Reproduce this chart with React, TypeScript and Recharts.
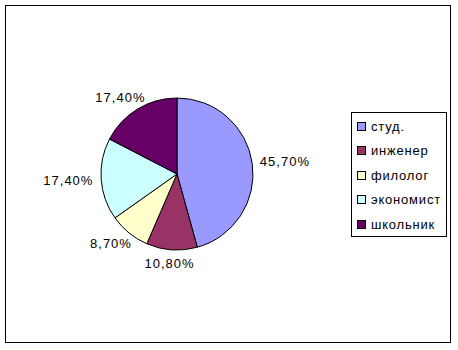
import React from "react";
import { PieChart, Pie, Cell, Legend } from "recharts";

const categories = ["студ.", "инженер", "филолог", "экономист", "школьник"];
const shares = [45.7, 10.8, 8.7, 17.4, 17.4];
const colors = ["#9999FF", "#993366", "#FFFFCC", "#CCFFFF", "#660066"];

const data = categories.map((name, i) => ({ name, value: shares[i] }));

const RAD = Math.PI / 180;
const FONT = "'Liberation Sans', Arial, sans-serif";

const fmt = (v: number) => v.toFixed(2).replace(".", ",") + "%";

const renderLabel = (props: any) => {
  const { cx, cy, midAngle, outerRadius, value } = props;
  const text = fmt(value);
  const w = text.length * 8.3;
  const h = 12;
  const cos = Math.cos(-midAngle * RAD);
  const sin = Math.sin(-midAngle * RAD);
  const ax = cx + (outerRadius + 8) * cos;
  const ay = cy + (outerRadius + 8) * sin;
  const x = ax + (cos * w) / 2;
  const y = ay + (sin * h) / 2;
  return (
    <text
      x={x}
      y={y}
      textAnchor="middle"
      dominantBaseline="central"
      fill="#000"
      fontSize={13}
      letterSpacing={1}
      fontFamily={FONT}
    >
      {text}
    </text>
  );
};

const LegendBox = () => (
  <div
    style={{
      border: "1px solid #000",
      background: "#fff",
      width: 96,
      height: 125,
      boxSizing: "border-box",
      paddingTop: 1,
      fontFamily: FONT,
      fontSize: 13,
      letterSpacing: 0.8,
      color: "#000",
    }}
  >
    {categories.map((c, i) => (
      <div
        key={c}
        style={{ display: "flex", alignItems: "center", height: 24.5, paddingLeft: 5 }}
      >
        <span
          style={{
            display: "inline-block",
            width: 7,
            height: 7,
            border: "1px solid #000",
            background: colors[i],
            marginRight: 5,
          }}
        />
        <span>{c}</span>
      </div>
    ))}
  </div>
);

export default function App() {
  return (
    <div style={{ position: "absolute", left: 0, top: 0, width: 458, height: 350, background: "#fff" }}>
      <div
        style={{
          position: "absolute",
          left: 5,
          top: 5,
          width: 446,
          height: 338,
          border: "1px solid #000",
          boxSizing: "border-box",
        }}
      />
      <div style={{ position: "absolute", left: 0, top: 0 }}>
        <PieChart width={458} height={350} margin={{ top: 0, right: 0, bottom: 0, left: 0 }}>
          <Pie
            data={data}
            dataKey="value"
            nameKey="name"
            cx={177}
            cy={174}
            outerRadius={76}
            startAngle={90}
            endAngle={-270}
            stroke="#000"
            strokeWidth={1}
            label={renderLabel}
            labelLine={false}
            isAnimationActive={false}
          >
            {data.map((d, i) => (
              <Cell key={d.name} fill={colors[i]} />
            ))}
          </Pie>
          <Legend
            content={<LegendBox />}
            wrapperStyle={{ position: "absolute", left: 351, top: 112, width: 96, height: 125 }}
          />
        </PieChart>
      </div>
    </div>
  );
}
